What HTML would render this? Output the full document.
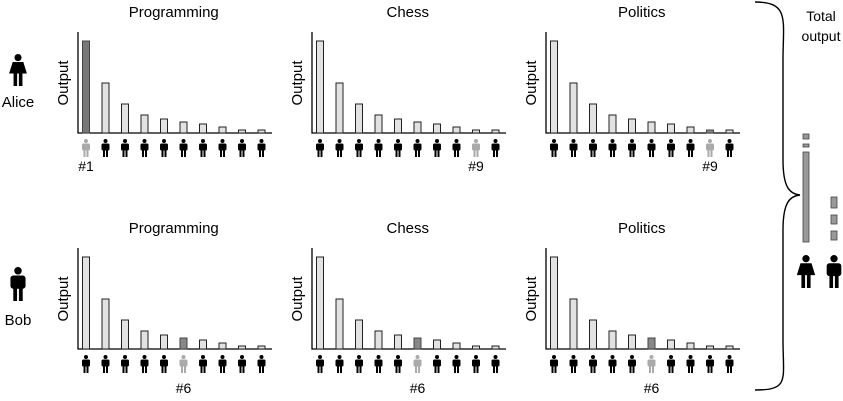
<!DOCTYPE html>
<html><head><meta charset="utf-8"><style>
html,body{margin:0;padding:0;background:#fff;}
svg{display:block;font-family:"Liberation Sans",sans-serif;}
</style></head><body>
<svg id="c" width="843" height="401" viewBox="0 0 843 401"></svg>
<script>
const rowNames = ["Alice","Bob"];
const topics = ["Programming","Chess","Politics"];
const values = [92,50,29,18,14,11,9,6,3,3];
const highlightRank = [[1,9,9],[6,6,6]];
const highlightDarkBar = [[true,false,true],[true,true,true]];
const aliceTotal = [90,3,5];
const bobTotal = [9,9,11];

const NS="http://www.w3.org/2000/svg";
const svg=document.getElementById('c');
function mk(tag,attrs,parent){const e=document.createElementNS(NS,tag);for(const k in attrs)e.setAttribute(k,attrs[k]);(parent||svg).appendChild(e);return e;}
function person(g,cx,top,h,color,female){
  const s=h/18;
  mk('circle',{cx:cx,cy:top+2*s,r:2*s,fill:color},g);
  if(female){mk('path',{d:`M${cx-3*s} ${top+4.5*s} L${cx+3*s} ${top+4.5*s} L${cx+5*s} ${top+11*s} L${cx-5*s} ${top+11*s}Z`,fill:color},g);}
  else{mk('rect',{x:cx-4*s,y:top+4.5*s,width:8*s,height:7*s,rx:1.5*s,fill:color},g);}
  mk('rect',{x:cx-2.5*s,y:top+10*s,width:2*s,height:8*s,fill:color},g);
  mk('rect',{x:cx+0.5*s,y:top+10*s,width:2*s,height:8*s,fill:color},g);
}
const axisX=[78,312,546];
const baseY=[133,349];
const ppv=(133-41)/92;
function yScale(row,v){return baseY[row]-v*ppv;}
function xScale(p,i){return axisX[p]+8+i*19.5;}

rowNames.forEach((name,r)=>{
  const lab=mk('text',{x:18,y:r?325:107,'text-anchor':'middle','font-size':15},svg);
  lab.textContent=name;
  
  
  const ig=mk('g',{});
  
  
  person(ig,18,r?267:54,r?34:32,'#000',r===0);
  topics.forEach((t,p)=>{
    const g=mk('g',{});
    
    
    const tt=mk('text',{x:xScale(p,4.5),y:r?233:17,'text-anchor':'middle','font-size':15},g);
    tt.textContent=t;
    
    
    const yl=mk('text',{transform:`translate(${axisX[p]-10},${baseY[r]-50}) rotate(-90)`,'text-anchor':'middle','font-size':15},g);
    yl.textContent='Output';
    
    
    const ax=mk('path',{d:`M${axisX[p]} ${baseY[r]-101} V${baseY[r]} H${axisX[p]+194}`,stroke:'#000','stroke-width':1.3,fill:'none'},g);
    
    
    const hr=highlightRank[r][p];
    values.forEach((v,i)=>{
      const hi=(i+1===hr)&&highlightDarkBar[r][p];
      const y=yScale(r,v);
      const b=mk('rect',{x:xScale(p,i)-3.5,y:y,width:7,height:baseY[r]-y,fill:hi?(r===0&&p===0?'#777':'#888'):'#e2e2e2',stroke:hi?'#444':'#222','stroke-width':1},g);
      
      
      const pg=mk('g',{},g);
      
      
      person(pg,xScale(p,i),baseY[r]+6,18,i+1===hr?'#aaa':'#000',false);
    });
    const rl=mk('text',{x:xScale(p,hr-1),y:r?393:171,'text-anchor':'middle','font-size':14},g);
    rl.textContent='#'+hr;
    
    
  });
});
// brace
const br=mk('path',{d:'M755 2 C790 2 783 20 783 60 L783 160 C783 188 790 194 800 195 C790 196 783 202 783 230 L783 340 C783 380 790 390 755 390',stroke:'#000','stroke-width':1.4,fill:'none'});


const t1=mk('text',{x:821,y:21,'text-anchor':'middle','font-size':14});t1.textContent='Total';


const t2=mk('text',{x:821,y:41,'text-anchor':'middle','font-size':14});t2.textContent='output';


// totals stacks (drawn top-down from bottom at y=242)
function stack(xc,arr,bottom,gap,nm){
  let y=bottom;
  arr.forEach((v,k)=>{
    const r=mk('rect',{x:xc-3,y:y-v,width:6,height:v,fill:'#999',stroke:'#444','stroke-width':0.8});
    
    
    y=y-v-gap;
  });
}
stack(806,aliceTotal,242,5,'alice');
stack(834,bobTotal,240,7,'bob');
const ai=mk('g',{});
person(ai,806,255,33,'#000',true);
const bi=mk('g',{});
person(bi,834,255,33,'#000',false);
</script>
</body></html>
